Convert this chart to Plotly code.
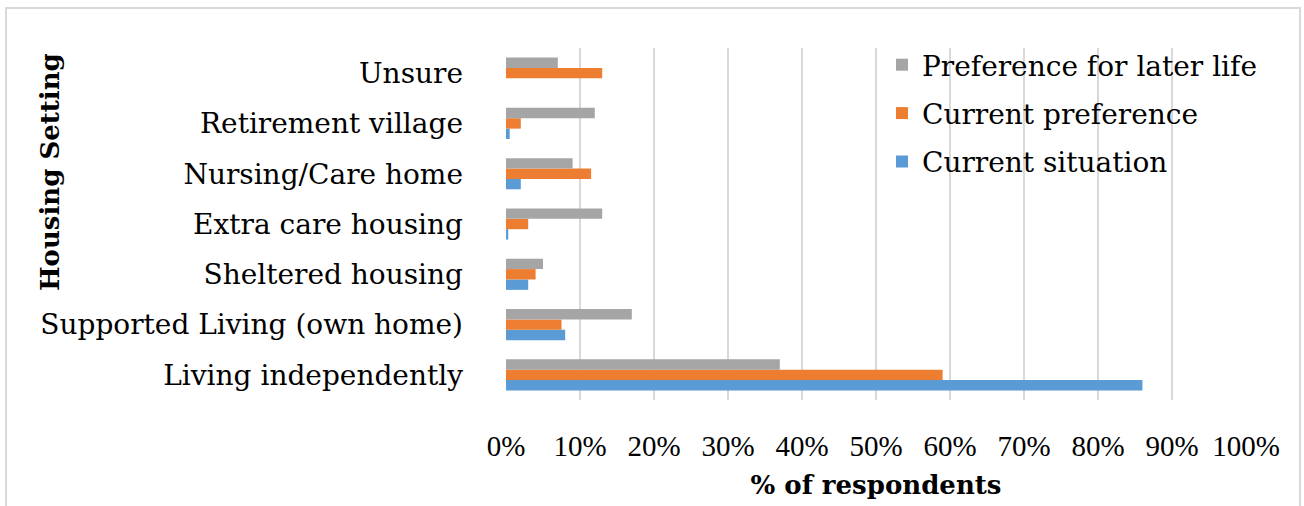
import plotly.graph_objects as go

categories = [
    "Living independently",
    "Supported Living (own home)",
    "Sheltered housing",
    "Extra care housing",
    "Nursing/Care home",
    "Retirement village",
    "Unsure",
]
current_situation = [86, 8, 3, 0.3, 2, 0.5, 0]
current_preference = [59, 7.5, 4, 3, 11.5, 2, 13]
later_life_preference = [37, 17, 5, 13, 9, 12, 7]
x_ticks = list(range(0, 101, 10))
x_tick_labels = [f"{v}%" for v in x_ticks]

FONT = "DejaVu Serif"
TICK_FONT = "Liberation Serif"
W, H = 1304, 506
ML, MR, MT, MB = 506, 58, 48, 106
PW, PH = W - ML - MR, H - MT - MB


def px_to_paper_x(px):
    return (px - ML) / PW


def px_to_paper_y(py):
    return (H - MB - py) / PH


fig = go.Figure()
# (name, values, colour, legend rank) - drawn bottom-up within each group,
# listed top-down in the legend
series = [
    ("Current situation", current_situation, "#5B9BD5", 3),
    ("Current preference", current_preference, "#ED7D31", 2),
    ("Preference for later life", later_life_preference, "#A5A5A5", 1),
]
for name, vals, color, rank in series:
    fig.add_trace(go.Bar(
        y=categories, x=vals, name=name, orientation="h",
        marker=dict(color=color, line=dict(width=0)),
        legendgroup=name, legendrank=rank,
    ))

fig.update_layout(
    width=W, height=H,
    margin=dict(l=ML, r=MR, t=MT, b=MB),
    paper_bgcolor="white", plot_bgcolor="white",
    barmode="group", bargap=0.38, bargroupgap=0,
    font=dict(family=FONT, size=28, color="black"),
    legend=dict(
        x=px_to_paper_x(882), y=px_to_paper_y(40),
        xanchor="left", yanchor="top",
        traceorder="grouped", tracegroupgap=9,
        font=dict(family=FONT, size=28, color="black"),
        bgcolor="rgba(0,0,0,0)",
    ),
    xaxis=dict(
        range=[0, 100], tickvals=x_ticks, ticktext=x_tick_labels,
        showgrid=True, gridcolor="#D9D9D9", gridwidth=2,
        zeroline=False, showline=False, ticks="",
        ticklabelstandoff=26,
        tickfont=dict(family=TICK_FONT, size=29, color="black"),
        title=dict(text="<b>% of respondents</b>", standoff=14,
                   font=dict(family=FONT, size=26, color="black")),
    ),
    yaxis=dict(
        categoryorder="array", categoryarray=categories,
        showgrid=False, zeroline=False, showline=False, ticks="",
        ticklabelstandoff=42,
        tickfont=dict(family=FONT, size=28, color="black"),
    ),
    annotations=[dict(
        text="<b>Housing Setting</b>", textangle=-90,
        xref="paper", yref="paper",
        x=px_to_paper_x(50), y=px_to_paper_y(172),
        xanchor="center", yanchor="middle", showarrow=False,
        font=dict(family=FONT, size=26, color="black"),
    )],
    shapes=[dict(
        type="rect", xref="paper", yref="paper",
        x0=px_to_paper_x(6), x1=px_to_paper_x(1300),
        y0=px_to_paper_y(520), y1=px_to_paper_y(8),
        line=dict(color="#D9D9D9", width=2), fillcolor="rgba(0,0,0,0)",
        layer="below",
    )],
)

fig.write_html("out.html")
